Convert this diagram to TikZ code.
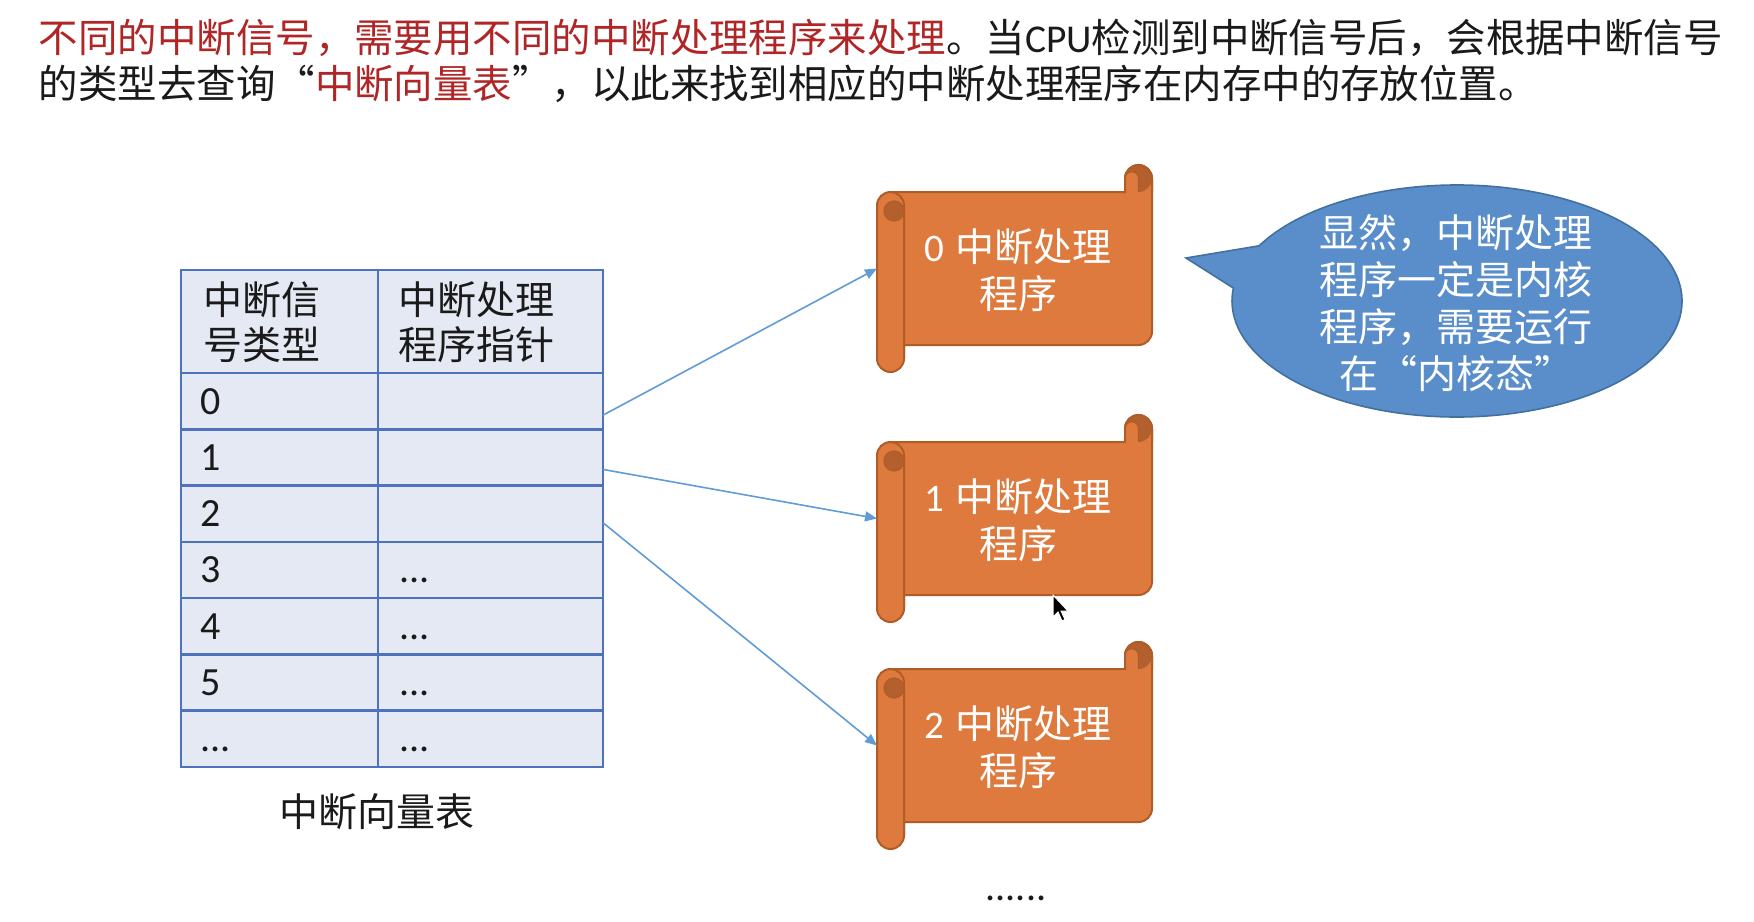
\documentclass[tikz,border=0pt]{standalone}
\usepackage{fontspec}
\setmainfont{Noto Sans CJK SC}
\newfontfamily\lat{Carlito}
\newfontfamily\fwq[RawFeature=+fwid]{Noto Sans CJK SC}
\usetikzlibrary{arrows.meta,calc}
\definecolor{tred}{RGB}{176,38,38}
\definecolor{tblack}{RGB}{26,26,26}
\definecolor{cellfill}{RGB}{229,233,243}
\definecolor{cellline}{RGB}{79,114,190}
\definecolor{scrollfill}{RGB}{222,122,62}
\definecolor{scrolledge}{RGB}{176,92,38}
\definecolor{scrolldark}{RGB}{180,96,46}
\definecolor{callfill}{RGB}{90,142,202}
\definecolor{calledge}{RGB}{66,113,160}
\definecolor{ptrcol}{RGB}{96,156,214}
\newcommand\tdots{...}

\newcommand\scrollshape[2]{%
 \begin{scope}[shift={(#1,#2)}]
  \path[fill=scrollfill,draw=scrolledge,line width=1pt] (0,40.5) arc[start angle=180,end angle=270,radius=13.5] -- (248,27) -- (248,13.5) arc[start angle=180,end angle=360,radius=13.5] -- (275,166.5) arc[start angle=0,end angle=90,radius=13.5] -- (27,180) -- (27,193.5) arc[start angle=0,end angle=180,radius=13.5] -- cycle;
  \fill[scrolldark] (261.5,13.5) circle[radius=13.5];
  \fill[scrollfill] (248,27) -- (248,13.5) arc[start angle=180,end angle=360,radius=6.75] -- (261.5,27) -- cycle;
  \draw[scrolledge,line width=1pt] (248,27) -- (248,13.5) arc[start angle=180,end angle=360,radius=13.5] -- (275,27);
  \draw[scrolledge,line width=0.6pt] (248,13.5) arc[start angle=180,end angle=360,radius=6.75] -- (261.5,27);
  \fill[scrolldark,draw=scrolledge,line width=0.6pt] (17,46) circle[radius=10];
  \draw[scrolledge,line width=1pt] (13.5,27) arc[start angle=270,end angle=360,radius=13.5] -- (27,193.5);
 \end{scope}}

\begin{document}
\begin{tikzpicture}[x=0.5pt,y=-0.5pt,
  every node/.style={inner sep=0pt,outer sep=0pt},
  cjk/.style={font=\fontsize{19.5}{23.5}\selectfont},
  titletext/.style={font=\fontsize{19.72}{23.5}\selectfont,text=tblack,anchor=west},
  cell/.style={draw=cellline,fill=cellfill,line width=1.3pt,anchor=north west,minimum height=28.145pt},
  num/.style={font=\lat\fontsize{20}{24}\selectfont,text=tblack,anchor=base west},
  hdr/.style={font=\fontsize{19.5}{22.5}\selectfont,text=tblack,anchor=west,align=left},
  body/.style={minimum width=137.5pt,minimum height=76.5pt,anchor=north west},
  scrolltext/.style={font=\fontsize{19.5}{23.5}\selectfont,text=white,align=center},
  ptr/.style={draw=ptrcol,line width=0.8pt,-{Triangle[length=6pt,width=5pt]}}
]
\fill[white] (0,0) rectangle (1754,921);
\useasboundingbox (0,0) rectangle (1754,921);

% title
\node[titletext] (title1) at (39,37.5) {{\color{tred}不同的中断信号，需要用不同的中断处理程序来处理}。当{\lat CPU}检测到中断信号后，会根据中断信号};
\node[titletext] (title2) at (39,83.5) {的类型去查询{\fwq “}{\color{tred}中断向量表}{\fwq ”}，以此来找到相应的中断处理程序在内存中的存放位置。};

% table
\node[cell,minimum width=98.5pt,minimum height=51.5pt] (H1) at (181,270) {};
\node[cell,minimum width=112.5pt,minimum height=51.5pt] (H2) at (378,270) {};
\node[hdr] (h1t) at (203,322.5) {中断信\\号类型};
\node[hdr] (h2t) at (398,322.5) {中断处理\\程序指针};
\foreach \i/\a/\b in {0/0/{},1/1/{},2/2/{},3/3/\tdots,4/4/\tdots,5/5/\tdots,6/\tdots/\tdots}{
  \pgfmathsetmacro\yt{373+56.29*\i}
  \node[cell,minimum width=98.5pt] (L\i) at (181,\yt) {};
  \node[cell,minimum width=112.5pt] (R\i) at (378,\yt) {};
  \node[num] (a\i) at (200,\yt+41.1) {\a};
  \node[num] (b\i) at (399,\yt+41.1) {\b};
}
\node[cjk,text=tblack] (cap) at (377,812) {中断向量表};

% scrolls
\scrollshape{877}{165}
\scrollshape{877}{415}
\scrollshape{877}{642}
\node[body] (s0) at (877,192) {};
\node[body] (s1) at (877,442) {};
\node[body] (s2) at (877,669) {};
\node[scrolltext] (t0) at (1018,270.5) {{\lat 0}\hspace{6pt}中断处理\\程序};
\node[scrolltext] (t1) at (1018,520.5) {{\lat 1}\hspace{6pt}中断处理\\程序};
\node[scrolltext] (t2) at (1018,747.5) {{\lat 2}\hspace{6pt}中断处理\\程序};

% pointers
\draw[ptr] ($(R0.east)+(0,14)$) -- (s0.west);
\draw[ptr] ($(R1.east)+(0,12)$) -- (s1.west);
\draw[ptr] ($(R2.east)+(0,9)$) -- (s2.west);

% callout
\path[fill=callfill,draw=calledge,line width=0.8pt] (1186,258) -- ($(1457,301)+(208.4:225 and 116)$) arc[start angle=208.4,end angle=546.4,x radius=225,y radius=116] -- cycle;
\node[cjk,text=white,align=center] (callout) at (1456,303) {显然，中断处理\\程序一定是内核\\程序，需要运行\\在{\fwq “}内核态{\fwq ”}};

% more dots
\node[font=\lat\fontsize{20}{24}\selectfont,text=tblack,anchor=base] (more) at (1016,900) {......};

% mouse cursor
\draw[white,line width=0.5pt,fill=black] (1053,595) -- ++(0,22) -- ++(5,-5) -- ++(4,9) -- ++(3,-1.5) -- ++(-4,-8.5) -- ++(7,0) -- cycle;
\end{tikzpicture}
\end{document}
